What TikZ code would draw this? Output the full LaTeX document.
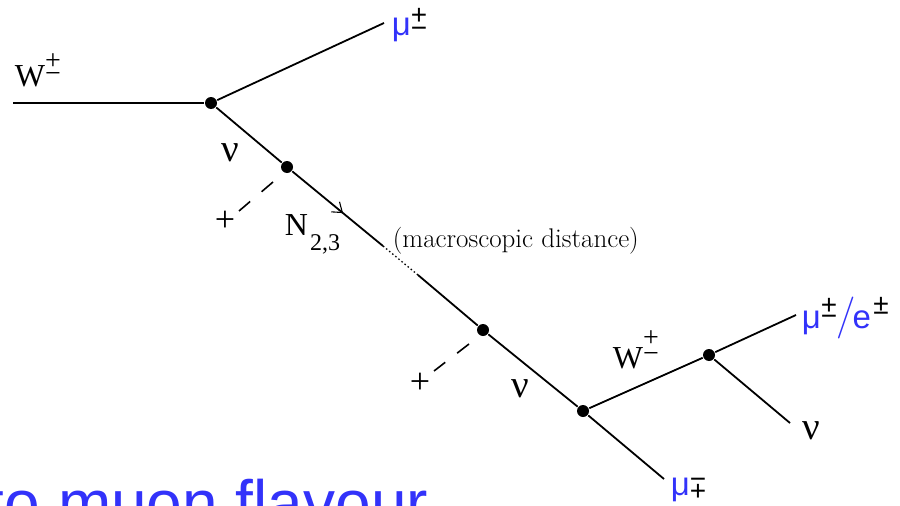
\documentclass[tikz,border=0pt]{standalone}
\usepackage{fontspec}
\setmainfont{Liberation Serif}
\newfontfamily\slidesans{Liberation Sans}
\newfontfamily\thinfont{Latin Modern Roman}
\usetikzlibrary{arrows.meta, decorations.markings}
\definecolor{slideblue}{RGB}{50,50,250}
% stacked charge signs: raise of top sign, raise of bottom sign, top, bottom
\newcommand{\chg}[4]{\textcolor{black}{\fontsize{28}{28}\selectfont\rlap{\raisebox{#1}{#3}}\raisebox{#2}{#4}}}

\begin{document}
\begin{tikzpicture}[x=1pt, y=-1pt, line width=1.8pt,
    vtx/.style={circle, fill=black, inner sep=0pt, minimum size=12pt},
    lbl/.style={inner sep=0pt, anchor=base west, font=\fontsize{32}{36}\selectfont},
    nulbl/.style={inner sep=0pt, anchor=base west, font=\fontsize{39}{40}\selectfont},
    mulbl/.style={inner sep=0pt, anchor=base west, text=slideblue, font=\slidesans\fontsize{33}{36}\selectfont},
    pluslbl/.style={inner sep=0pt, font=\fontsize{36}{36}\selectfont},
    scalar/.style={line width=1.6pt, dash pattern=on 15pt off 15pt}]
    \useasboundingbox (0,0) rectangle (900,506);
    \fill[white] (0,0) rectangle (900,506);
    \clip (0,0) rectangle (900,506);

    % vertices
    \node[vtx] (A) at (211,103) {};
    \node[vtx] (B) at (287,167) {};
    \node[vtx] (C) at (483,330) {};
    \node[vtx] (D) at (583,411) {};
    \node[vtx] (E) at (709,355) {};

    % free ends
    \coordinate (win) at (13,103);
    \coordinate (muA) at (384,23);
    \coordinate (gapA) at (383,246);
    \coordinate (gapB) at (418,275);
    \coordinate (muD) at (664,479);
    \coordinate (muE) at (796,315);
    \coordinate (nuE) at (790,423);
    \coordinate (sB) at (273,182);
    \coordinate (tB) at (239,211);
    \coordinate (sC) at (469,344);
    \coordinate (tC) at (434,371);

    % lines
    \draw (win) -- (A);
    \draw (A) -- (muA);
    \draw (A) -- (B);
    \draw[postaction={decorate}, decoration={markings,
        mark=at position 0.56 with {\arrow{Straight Barb[length=9pt, width=13pt, line width=1.1pt]}}}]
        (B) -- (gapA);
    \draw[line width=1.3pt, dash pattern=on 1.5pt off 2.5pt] (gapA) -- (gapB);
    \draw (gapB) -- (C);
    \draw (C) -- (D);
    \draw (D) -- (muD);
    \draw (D) -- (E);
    \draw (E) -- (muE);
    \draw (E) -- (nuE);

    % dashed legs
    \draw[scalar] (sB) -- (tB);
    \draw[scalar] (sC) -- (tC);
    \node[pluslbl] (plusB) at (225,221) {+};
    \node[pluslbl] (plusC) at (420,383) {+};

    % labels
    \node[lbl] (wl) at (14,86) {W\chg{17pt}{4pt}{+}{−}};
    \node[lbl] (wr) at (612,368) {W\chg{22pt}{6pt}{+}{−}};
    \node[lbl] (nl) at (284,235) {N\hspace{2pt}\raisebox{-15pt}{\fontsize{24}{24}\selectfont 2,3}};
    \node[nulbl] (nuA) at (221,161) {ν};
    \node[nulbl] (nuC) at (511,397) {ν};
    \node[nulbl] (nuR) at (802,439) {ν};
    \node[inner sep=0pt, anchor=base west, font=\thinfont\fontsize{27}{28}\selectfont] (dist) at (392,247)
        {(macroscopic distance)};
    \node[mulbl] (mut) at (391,35) {μ\chg{11pt}{-2pt}{+}{−}};
    \node[mulbl] (mub) at (670,495) {μ\chg{7pt}{-5pt}{−}{+}};
    \node[mulbl] (mur) at (801,328) {μ\chg{14pt}{3pt}{+}{−}\hspace{-1pt}{\thinfont\fontsize{42}{42}\selectfont/}\hspace{-3pt}e\hspace{2pt}\chg{15pt}{6pt}{+}{−}};

    % slide text below
    \node[inner sep=0pt, anchor=base west, text=slideblue, font=\slidesans\fontsize{64}{70}\selectfont] (caption) at (-14,525) {to muon flavour};
\end{tikzpicture}
\end{document}
